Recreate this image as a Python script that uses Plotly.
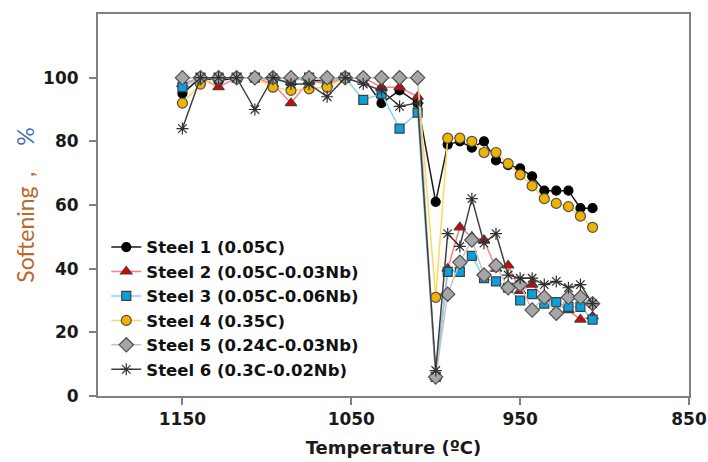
import plotly.graph_objects as go

temps = [1150, 1139.3, 1128.6, 1117.9, 1107.1, 1096.4, 1085.7, 1075, 1064.3, 1053.6,
         1042.9, 1032.1, 1021.4, 1010.7, 1000, 992.9, 985.7, 978.6, 971.4, 964.3,
         957.1, 950, 942.9, 935.7, 928.6, 921.4, 914.3, 907.1]

steel1 = [95, 100, 99, 100, 100, 100, 100, 99, 99, 100, 100, 92, 96, 92, 61,
          79, 80, 78, 80, 74, 72.5, 71.5, 69, 64.5, 64.5, 64.5, 59, 59]
steel2 = [98, 100, 97, 100, 100, 98, 92, 99, 98, 100, 100, 97, 97, 94, 6,
          40, 53, 50, 49, 40, 41, 33, 35, 31, 29, 27, 24, 25]
steel3 = [97, 100, 100, 100, 100, 99, 99, 100, 99, 100, 93, 95, 84, 89, 6,
          39, 39, 44, 37, 36, 34, 30, 32, 29, 29.5, 28, 28, 24]
steel4 = [92, 98, 100, 100, 100, 97, 96, 96.5, 97, 100, 100, 100, 100, 100, 31,
          81, 81, 80, 76.5, 76.5, 73, 69.5, 66, 62, 60.5, 59.5, 56.5, 53]
steel5 = [100, 100, 100, 100, 100, 100, 100, 100, 100, 100, 100, 100, 100, 100, 6,
          32, 42, 49, 38, 41, 34, 35, 27, 31, 26, 31, 31, 29]
steel6 = [84, 100, 100, 100, 90, 100, 98, 98, 94, 100, 98, 96, 91, 92, 8,
          51, 47, 62, 48, 51, 38, 37, 37, 35, 36, 34, 35, 29]

names = ["Steel 1 (0.05C)", "Steel 2 (0.05C-0.03Nb)", "Steel 3 (0.05C-0.06Nb)",
         "Steel 4 (0.35C)", "Steel 5 (0.24C-0.03Nb)", "Steel 6 (0.3C-0.02Nb)"]
series = [steel1, steel2, steel3, steel4, steel5, steel6]

styles = [
    dict(line="#1a1a1a", fill="#000000", outline="#000000", symbol="circle", size=9),
    dict(line="#ff7f7f", fill="#e00000", outline="#404040", symbol="triangle-up", size=10),
    dict(line="#80d4f2", fill="#0aa0dc", outline="#404040", symbol="square", size=9),
    dict(line="#ffd75e", fill="#f2b300", outline="#505050", symbol="circle", size=10),
    dict(line="#c4c4c4", fill="#a6a6a6", outline="#505050", symbol="diamond", size=11),
    dict(line="#404040", fill="#303030", outline="#303030", symbol="asterisk-open", size=10),
]

fig = go.Figure()
for i, (nm, ys, st) in enumerate(zip(names, series, styles)):
    fig.add_trace(go.Scatter(
        x=temps, y=ys, name=nm, mode="lines+markers", legendgroup=f"g{i}",
        line=dict(color=st["line"], width=1.5),
        marker=dict(symbol=st["symbol"], size=st["size"], color=st["fill"],
                    line=dict(color=st["outline"], width=1.2)),
    ))

FAM = "DejaVu Sans"
axis_font = dict(family=FAM, size=17, color="#1a1a1a", weight="bold")

fig.update_layout(
    width=708, height=462,
    margin=dict(l=98, r=19, t=14, b=66),
    paper_bgcolor="white", plot_bgcolor="white",
    showlegend=True,
    legend=dict(x=0.014, y=0.435, xanchor="left", yanchor="top",
                font=dict(family=FAM, size=16.5, color="#111111", weight="bold"),
                bgcolor="rgba(0,0,0,0)", traceorder="grouped", tracegroupgap=0,
                itemwidth=30),
    xaxis=dict(range=[1200, 850], tickvals=[1150, 1050, 950, 850], automargin=False,
               ticks="outside", ticklen=7, tickwidth=1.5, tickcolor="#808080",
               showline=True, linecolor="#808080", linewidth=2, mirror=True,
               showgrid=False, zeroline=False, tickfont=axis_font,
               title=dict(text="Temperature (ºC)", standoff=13,
                          font=dict(family=FAM, size=18, color="#1a1a1a", weight="bold"))),
    yaxis=dict(range=[0, 120], tickvals=[0, 20, 40, 60, 80, 100], automargin=False,
               ticks="outside", ticklen=7, tickwidth=1.5, tickcolor="#808080",
               ticklabelstandoff=7,
               showline=True, linecolor="#808080", linewidth=2, mirror=True,
               showgrid=False, zeroline=False, tickfont=axis_font,
               title=dict(text='<span style="color:#b8692c">Softening，</span><span style="color:#4670b4">&nbsp;&nbsp;&nbsp;%</span>',
                          standoff=2,
                          font=dict(family="Lato, Liberation Sans", size=23))),
)

fig.write_html("out.html")
